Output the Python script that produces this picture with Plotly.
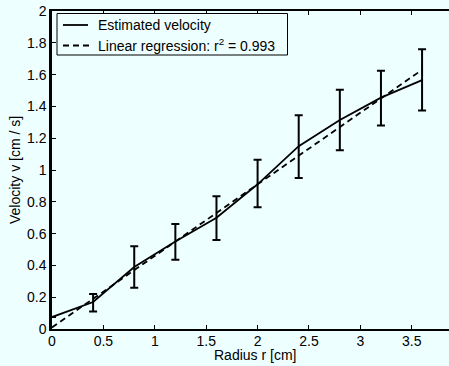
import plotly.graph_objects as go

radius = [0, 0.4, 0.8, 1.2, 1.6, 2.0, 2.4, 2.8, 3.2, 3.6]
velocity = [0.075, 0.17, 0.39, 0.55, 0.70, 0.91, 1.15, 1.315, 1.455, 1.565]
err_plus = [0, 0.05, 0.13, 0.11, 0.135, 0.155, 0.195, 0.19, 0.17, 0.195]
err_minus = [0, 0.06, 0.13, 0.115, 0.14, 0.145, 0.20, 0.19, 0.175, 0.19]
reg_x = [0, 3.6]
reg_y = [0.01, 1.63]
x_ticks = [0, 0.5, 1, 1.5, 2, 2.5, 3, 3.5]
x_tick_labels = ["0", "0.5", "1", "1.5", "2", "2.5", "3", "3.5"]
y_ticks = [0, 0.2, 0.4, 0.6, 0.8, 1, 1.2, 1.4, 1.6, 1.8, 2]
y_tick_labels = ["0", "0.2", "0.4", "0.6", "0.8", "1", "1.2", "1.4", "1.6", "1.8", "2"]
legend_labels = ["Estimated velocity", "Linear regression: r<sup>2</sup> = 0.993"]

bg = "#eeffff"
font = "Liberation Sans, Arial, sans-serif"

W, H = 449, 366
ML, MR, MT, MB = 52, 0, 11, 37
PW, PH = W - ML - MR, H - MT - MB


def pxx(p):
    return (p - ML) / PW


def pyy(p):
    return (H - MB - p) / PH


fig = go.Figure()
fig.add_trace(go.Scatter(
    x=radius, y=velocity, mode="lines", name=legend_labels[0],
    line=dict(color="black", width=1.8),
    error_y=dict(type="data", symmetric=False,
                 array=err_plus, arrayminus=err_minus,
                 color="black", thickness=2, width=4),
))
fig.add_trace(go.Scatter(
    x=reg_x, y=reg_y, mode="lines", name=legend_labels[1],
    line=dict(color="black", width=1.8, dash="6px,4px"),
))

shapes = [
    dict(type="rect", xref="paper", yref="paper",
         x0=pxx(57), x1=pxx(287.5), y0=pyy(55), y1=pyy(13.5),
         line=dict(color="black", width=1), fillcolor=bg, layer="above"),
    dict(type="line", xref="paper", yref="paper",
         x0=pxx(63), x1=pxx(88), y0=pyy(25), y1=pyy(25),
         line=dict(color="black", width=1.8), layer="above"),
    dict(type="line", xref="paper", yref="paper",
         x0=pxx(63), x1=pxx(89), y0=pyy(45.5), y1=pyy(45.5),
         line=dict(color="black", width=1.8, dash="6px,4px"), layer="above"),
]

annotations = [
    dict(text=legend_labels[0], xref="paper", yref="paper",
         x=pxx(96), y=pyy(25), xanchor="left", yanchor="middle",
         showarrow=False, font=dict(size=14)),
    dict(text=legend_labels[1], xref="paper", yref="paper",
         x=pxx(96), y=pyy(45), xanchor="left", yanchor="middle",
         showarrow=False, font=dict(size=14)),
    dict(text="Radius r [cm]", xref="paper", yref="paper",
         x=pxx(255), y=pyy(355), xanchor="center", yanchor="middle",
         showarrow=False, font=dict(size=14)),
    dict(text="Velocity v [cm / s]", xref="paper", yref="paper",
         x=pxx(15), y=pyy(170), xanchor="center", yanchor="middle",
         showarrow=False, textangle=-90, font=dict(size=14)),
]

fig.update_layout(
    width=W, height=H,
    paper_bgcolor=bg, plot_bgcolor=bg,
    margin=dict(l=ML, r=MR, t=MT, b=MB, autoexpand=False),
    font=dict(family=font, size=14, color="black"),
    showlegend=False,
    shapes=shapes,
    annotations=annotations,
)
fig.update_xaxes(
    range=[0, 3.862], tickvals=x_ticks, ticktext=x_tick_labels,
    ticks="inside", ticklen=4, tickcolor="black", tickwidth=1,
    showline=True, linecolor="black", linewidth=1.5, mirror="ticks",
    showgrid=False, zeroline=False, automargin=False,
    tickfont=dict(size=14), ticklabelstandoff=-2,
)
fig.update_yaxes(
    range=[0, 2], tickvals=y_ticks, ticktext=y_tick_labels,
    ticks="inside", ticklen=4, tickcolor="black", tickwidth=1,
    showline=True, linecolor="black", linewidth=2.5,
    showgrid=False, zeroline=False, automargin=False,
    tickfont=dict(size=14),
)

fig.write_html(
    "out.html",
    config={"displayModeBar": False},
    post_script="document.body.style.margin='0';document.body.style.background='%s';" % bg,
)
